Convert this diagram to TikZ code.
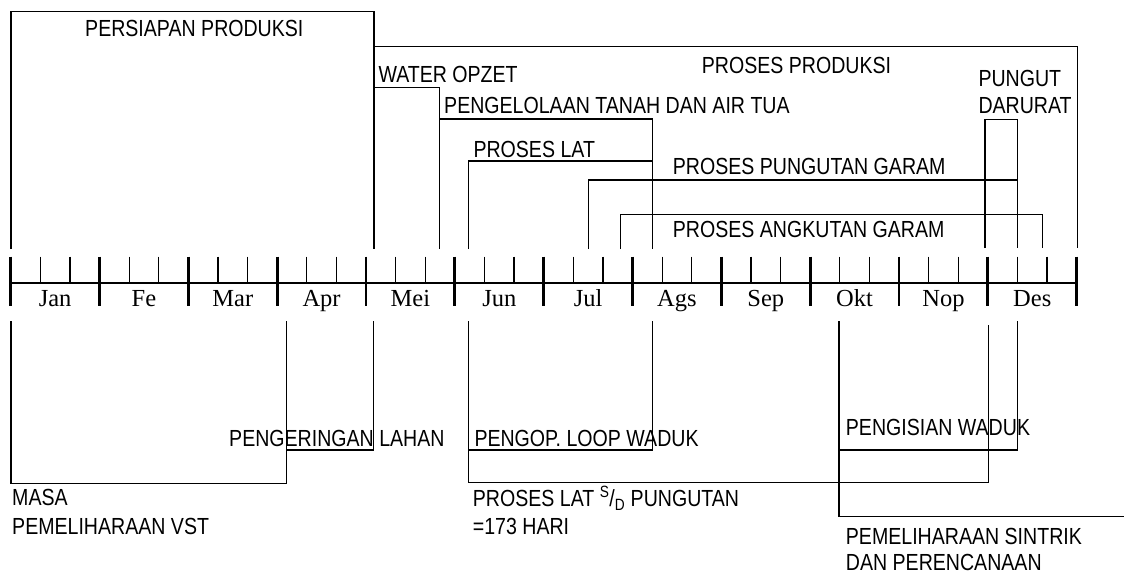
\documentclass[tikz,border=0pt]{standalone}
\usepackage{fontspec}
\setmainfont{Liberation Sans}[FakeStretch=0.84]
\newfontfamily\serifbulan{Liberation Serif}
\usetikzlibrary{positioning}

\begin{document}
\begin{tikzpicture}[x=1pt, y=-1pt,
        lbl/.style={anchor=base west, inner sep=0pt, font=\fontsize{23.3}{28}\selectfont},
        bulan/.style={anchor=base, inner sep=0pt, font=\serifbulan\fontsize{24.5}{29}\selectfont},
        garis/.style={line width=1.3pt}]
        \def\xo{10.7}
        \def\m{88.83}
        \def\ya{256.7}
        \def\yb{282.7}
        \def\yc{306}

        \useasboundingbox (0,0) rectangle (1124,573);

        % garis waktu
        \draw[line width=1.6pt] (\xo,\yb) -- ({\xo+12*\m},\yb);
        \foreach \k in {0,...,12}
            \draw[line width=2.8pt] ({\xo+\k*\m},\ya) -- ({\xo+\k*\m},\yc);
        \foreach \k in {0,...,11}
            \foreach \j in {1,2}
                \draw[line width=1.2pt] ({\xo+(\k+\j/3)*\m},\ya) -- ({\xo+(\k+\j/3)*\m},\yb);
        \foreach \bl [count=\k from 0] in {Jan,Fe,Mar,Apr,Mei,Jun,Jul,Ags,Sep,Okt,Nop,Des}
            \node[bulan] (b\k) at ({\xo+(\k+0.5)*\m},306.7) {\bl};

        % kegiatan di atas
        \draw[garis] (11,249) -- (11,11.7) -- (374,11.7) -- (374,249);
        \draw[garis] (374,46.7) -- (1077.3,46.7) -- (1077.3,248);
        \draw[garis] (374,87.7) -- (439.3,87.7) -- (439.3,249);
        \draw[garis] (439.3,119) -- (652.7,119) -- (652.7,249);
        \draw[garis] (468.7,249) -- (468.7,161) -- (652.7,161);
        \draw[garis] (588.3,249) -- (588.3,180) -- (1017.7,180);
        \draw[garis] (620.7,249) -- (620.7,214.3) -- (1042.7,214.3) -- (1042.7,248);
        \draw[garis] (985,248) -- (985,119.3) -- (1017.7,119.3) -- (1017.7,248);

        \node[lbl] (persiapan) at (85,36.7) {PERSIAPAN PRODUKSI};
        \node[lbl] (produksi) at (701.7,73.3) {PROSES PRODUKSI};
        \node[lbl] (water) at (378.3,82.3) {WATER OPZET};
        \node[lbl] (pengelolaan) at (444,113.3) {PENGELOLAAN TANAH DAN AIR TUA};
        \node[lbl] (lat) at (473.3,157.3) {PROSES LAT};
        \node[lbl] (pungutan) at (672.7,174.5) {PROSES PUNGUTAN GARAM};
        \node[lbl] (angkutan) at (672.7,237) {PROSES ANGKUTAN GARAM};
        \node[lbl] (pungut) at (978.3,86) {PUNGUT};
        \node[lbl] (darurat) at (978.3,113.3) {DARURAT};

        % kegiatan di bawah
        \draw[garis] (11,321) -- (11,483.3) -- (286.7,483.3) -- (286.7,321);
        \draw[garis] (286.7,450) -- (373.3,450) -- (373.3,321);
        \draw[garis] (468.7,321) -- (468.7,482.7);
        \draw[garis] (468.7,450) -- (652.3,450) -- (652.3,321);
        \draw[garis] (468.7,482.7) -- (988.3,482.7) -- (988.3,325);
        \draw[garis] (839,321) -- (839,516.7) -- (1124,516.7);
        \draw[garis] (839,450) -- (1017.3,450) -- (1017.3,321);

        \node[lbl] (masa) at (12,505.7) {MASA};
        \node[lbl] (vst) at (12,534) {PEMELIHARAAN VST};
        \node[lbl] (pengeringan) at (229,446.7) {PENGERINGAN LAHAN};
        \node[lbl] (pengop) at (474.3,446.7) {PENGOP. LOOP WADUK};
        \node[lbl] (latsd) at (472.7,506.7) {PROSES LAT \textsuperscript{S}/\textsubscript{D} PUNGUTAN};
        \node[lbl] (hari) at (472.7,534) {=173 HARI};
        \node[lbl] (pengisian) at (845.7,435) {PENGISIAN WADUK};
        \node[lbl] (sintrik) at (845.7,544) {PEMELIHARAAN SINTRIK};
        \node[lbl] (perencanaan) at (845.7,570) {DAN PERENCANAAN};
    \end{tikzpicture}
\end{document}
